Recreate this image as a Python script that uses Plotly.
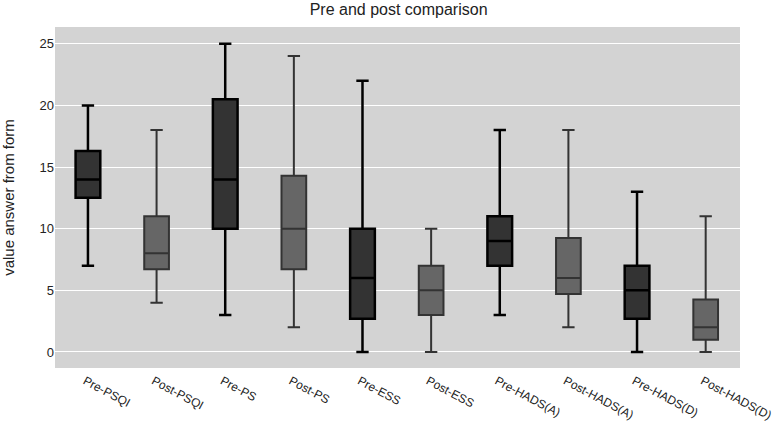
import plotly.graph_objects as go

categories = ["Pre-PSQI", "Post-PSQI", "Pre-PS", "Post-PS", "Pre-ESS", "Post-ESS",
              "Pre-HADS(A)", "Post-HADS(A)", "Pre-HADS(D)", "Post-HADS(D)"]
lower = [7, 4, 3, 2, 0, 0, 3, 2, 0, 0]
q1 = [12.5, 6.7, 10, 6.7, 2.7, 3, 7, 4.7, 2.7, 1]
median = [14, 8, 14, 10, 6, 5, 9, 6, 5, 2]
q3 = [16.3, 11, 20.5, 14.3, 10, 7, 11, 9.25, 7, 4.25]
upper = [20, 18, 25, 24, 22, 10, 18, 18, 13, 11]

fig = go.Figure()
for start, fill, line, lw in [(0, "#333333", "#000000", 2.5), (1, "#666666", "#333333", 2)]:
    idx = list(range(start, len(categories), 2))
    fig.add_trace(go.Box(
        x=[categories[i] for i in idx],
        q1=[q1[i] for i in idx],
        median=[median[i] for i in idx],
        q3=[q3[i] for i in idx],
        lowerfence=[lower[i] for i in idx],
        upperfence=[upper[i] for i in idx],
        fillcolor=fill,
        line=dict(color=line, width=lw),
        width=0.36,
        whiskerwidth=0.5,
        boxpoints=False,
        hoverinfo="skip",
        showlegend=False,
    ))

fig.update_layout(
    width=777, height=426,
    margin=dict(l=55, r=37, t=27, b=58, autoexpand=False),
    paper_bgcolor="white",
    plot_bgcolor="#d3d3d3",
    boxmode="overlay",
    font=dict(family="Liberation Sans, Arial, sans-serif", size=13, color="#222222"),
    title=dict(text="Pre and post comparison", x=0.513, xanchor="center",
               yref="container", y=1 - 9.5 / 426, yanchor="middle",
               font=dict(size=16, color="#222222")),
    xaxis=dict(categoryorder="array", categoryarray=categories, range=[-0.48, 9.5],
               tickangle=28, showgrid=False, zeroline=False, ticks="", ticklen=0,
               ticklabelstandoff=3, ticklabelshift=-3,
               automargin=False, tickfont=dict(size=12)),
    yaxis=dict(range=[-1.3, 26.36], tickvals=[0, 5, 10, 15, 20, 25], showgrid=True,
               gridcolor="white", gridwidth=1, zeroline=False, ticks="", automargin=False,
               title=dict(text="value answer from form", font=dict(size=15), standoff=22),
               tickfont=dict(size=13)),
)

fig.write_html("out.html", config={"displayModeBar": False},
               post_script="document.body.style.margin='0';")
